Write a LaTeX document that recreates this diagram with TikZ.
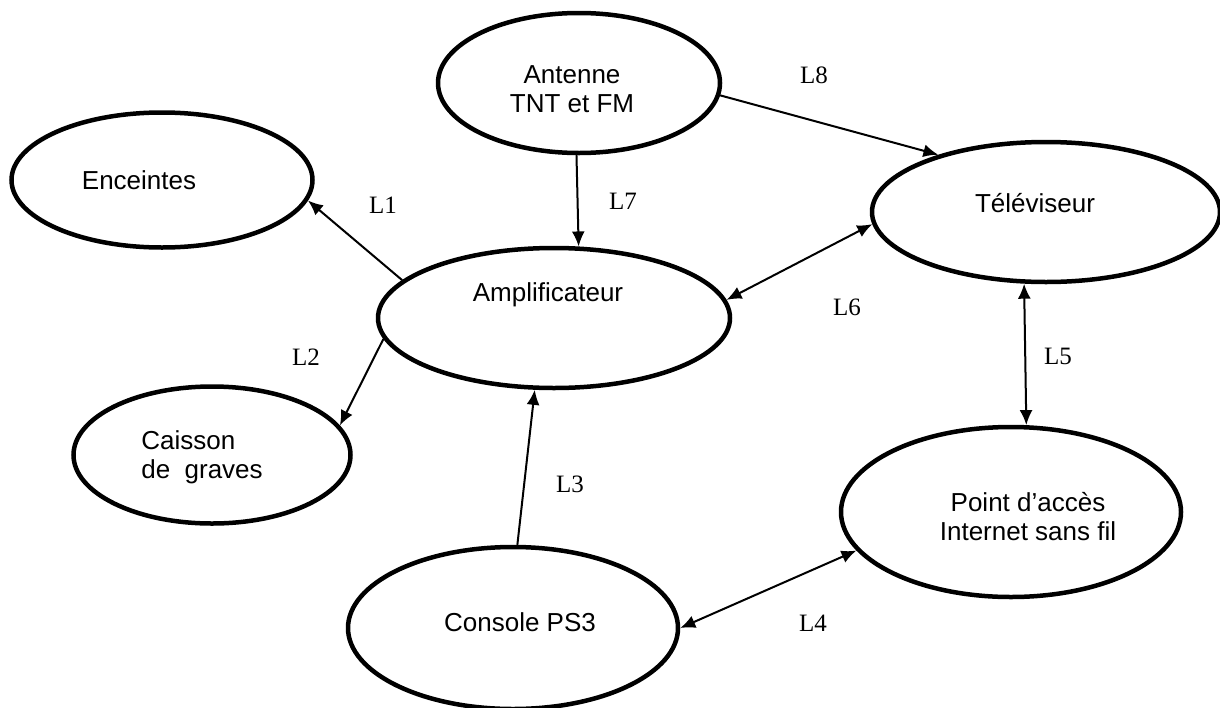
\documentclass[tikz,border=0pt]{standalone}
\usepackage{fontspec}
\setmainfont{Liberation Sans}
\newfontfamily\timesfont{Liberation Serif}
\usetikzlibrary{shapes.geometric}
\usetikzlibrary{arrows.meta}

\begin{document}
\begin{tikzpicture}[
  x=1pt, y=-1pt,
  every node/.style={inner sep=0pt},
  unit/.style={draw, ellipse, line width=4.5pt},
  txt/.style={font=\fontsize{26}{29}\selectfont, align=center},
  lien/.style={font=\timesfont\fontsize{25}{28}\selectfont},
  ar/.style={-{Latex[length=15pt,width=13pt]}, line width=2pt},
  biar/.style={{Latex[length=15pt,width=13pt]}-{Latex[length=15pt,width=13pt]}, line width=2pt}
  ]
    \useasboundingbox (0,0) rectangle (1220,707);
    % equipements
    \node[unit, minimum width=301pt, minimum height=135pt,
      label={[txt, xshift=-23pt]center:Enceintes}] (enc) at (162,180) {};
    \node[unit, minimum width=282pt, minimum height=140pt,
      label={[txt, xshift=-7pt, yshift=-6pt]center:Antenne\\TNT et FM}] (ant) at (579,83) {};
    \node[unit, minimum width=348pt, minimum height=140pt,
      label={[txt, xshift=-11pt, yshift=9pt]center:Téléviseur}] (tv) at (1046,212) {};
    \node[unit, minimum width=352pt, minimum height=140pt,
      label={[txt, xshift=-6pt, yshift=23pt]center:Amplificateur}] (amp) at (554,318) {};
    \node[unit, minimum width=277pt, minimum height=137pt,
      label={[txt, align=left, xshift=-10pt, yshift=-2pt]center:Caisson\\de~~graves}] (cai) at (212,455) {};
    \node[unit, minimum width=330pt, minimum height=162pt,
      label={[txt, xshift=7pt, yshift=6pt]center:Console PS3}] (ps3) at (513,628) {};
    \node[unit, minimum width=340pt, minimum height=170pt,
      label={[txt, xshift=17pt, yshift=-5pt]center:Point d’accès\\Internet sans fil}] (wifi) at (1011,512) {};

    % liaisons
    \draw[ar] (amp.166.8) -- (enc.-8.7);
    \draw[ar] (amp.187.9) -- (cai.13.5);
    \draw[ar] (ps3.87.2) -- (amp.255.2);
    \draw[biar] (ps3.0) -- (wifi.194.7);
    \draw[biar] (tv.253.5) -- (wifi.80.6);
    \draw[biar] (amp.6.8) -- (tv.184.9);
    \draw[ar] (ant.268.4) -- (amp.71.8);
    \draw[ar] (ant.-5.7) -- (tv.152.4);

    \node[lien] (l1) at (383,205) {L1};
    \node[lien] (l2) at (306,357) {L2};
    \node[lien] (l3) at (570,484) {L3};
    \node[lien] (l4) at (813,623) {L4};
    \node[lien] (l5) at (1058,356) {L5};
    \node[lien] (l6) at (847,307) {L6};
    \node[lien] (l7) at (623,201) {L7};
    \node[lien] (l8) at (814,75) {L8};
\end{tikzpicture}
\end{document}
